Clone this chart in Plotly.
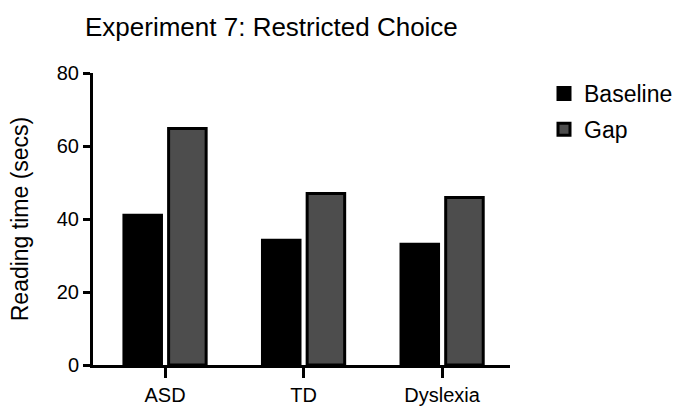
import plotly.graph_objects as go

categories = ["ASD", "TD", "Dyslexia"]
baseline = [41, 34.2, 33.1]
gap = [64.8, 47.0, 45.9]
y_ticks = [0, 20, 40, 60, 80]

FONT = "Liberation Sans, Arial, Helvetica, sans-serif"

fig = go.Figure()
fig.add_trace(go.Bar(x=categories, y=baseline, name="Baseline", legendgroup="a",
                     marker=dict(color="#000000", line=dict(color="#000000", width=3))))
fig.add_trace(go.Bar(x=categories, y=gap, name="Gap", legendgroup="b",
                     marker=dict(color="#4d4d4d", line=dict(color="#000000", width=3))))

fig.update_layout(
    width=677, height=407,
    margin=dict(l=93, r=167, t=73, b=42),
    paper_bgcolor="white", plot_bgcolor="white",
    font=dict(family=FONT, color="black", size=20),
    title=dict(text="Experiment 7: Restricted Choice", x=85/677, xanchor="left",
               y=1 - 27/407, yanchor="middle", font=dict(size=26, family=FONT)),
    barmode="group", bargap=0.355, bargroupgap=0.16,
    showlegend=True,
    legend=dict(xref="container", yref="container", x=544/677, y=1 - 72/407,
                xanchor="left", yanchor="top",
                font=dict(size=23), tracegroupgap=3, bgcolor="rgba(0,0,0,0)"),
    xaxis=dict(range=[-0.52, 2.49], showline=True, linecolor="black", linewidth=3,
               ticks="outside", ticklen=10, tickwidth=3, tickcolor="black",
               showgrid=False, zeroline=False, tickfont=dict(size=20), automargin=False),
    yaxis=dict(range=[0, 80], tickvals=y_ticks, showline=True, linecolor="black",
               linewidth=3, ticks="outside", ticklen=7, tickwidth=3, tickcolor="black",
               showgrid=False, zeroline=False, tickfont=dict(size=20), automargin=False,
               title=dict(text="Reading time (secs)", font=dict(size=23), standoff=22)),
)

fig.write_html("out.html", config={"displayModeBar": False},
               post_script="document.body.style.margin='0';")
